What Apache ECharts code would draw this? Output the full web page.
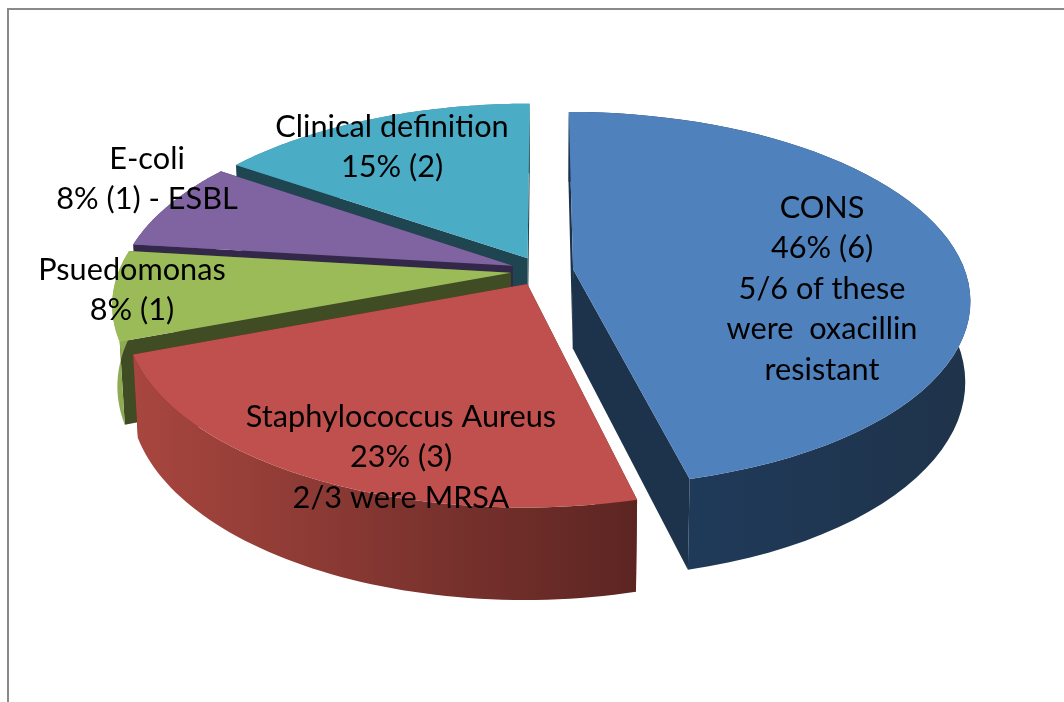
<!DOCTYPE html>
<html lang="en">

<head>
    <meta charset="UTF-8">
    <title>3D pie</title>
    <script src="https://cdn.jsdelivr.net/npm/echarts@6/dist/echarts.min.js"></script>
    <style>
        html, body { margin: 0; padding: 0; background: #fff; }
        #chart { width: 1064px; height: 702px; }
    </style>
</head>

<body>
    <div id="chart"></div>
    <script>
        // data, clockwise from twelve o'clock
        var categories = ['CONS', 'Staphylococcus Aureus', 'Psuedomonas', 'E-coli', 'Clinical definition'];
        var counts = [6, 3, 1, 1, 2];
        var labelLines = [
            ['CONS', '46% (6)', '5/6 of these', 'were  oxacillin', 'resistant'],
            ['Staphylococcus Aureus', '23% (3)', '2/3 were MRSA'],
            ['Psuedomonas', '8% (1)'],
            ['E-coli', '8% (1) - ESBL'],
            ['Clinical definition', '15% (2)']
        ];

        // look of the slices
        var topColors = ['#4F81BD', '#C0504D', '#9BBB59', '#8064A2', '#4BACC6'];
        var cutColors = ['#1D334B', '#5E2623', '#3F4C24', '#33284A', '#1F4650'];
        var wallColors = [
            ['#1F3D60', '#1F334A'],
            ['#A8463F', '#5C2522'],
            ['#8FAB52', '#8FAB52'],
            ['#6A5288', '#5A4676'],
            ['#3F93A8', '#357F92']
        ];
        var labelCenters = [[822, 208], [401, 417], [132, 270], [147, 159], [392, 127]];
        var lineGap = 40.5;
        var drawOrder = [4, 3, 2, 0, 1]; // back to front

        // projection of the disc, radius 1
        var cx = 542, cy = 271, radiusX = 392, tilt = 183, height = 79;
        var persp = 0.16, bottomShrink = 0.988, explode = 0.08;

        var total = counts.reduce(function (a, b) { return a + b; }, 0);
        var angles = [], acc = 0;
        counts.forEach(function (c) {
            var from = acc / total * Math.PI * 2;
            acc += c;
            angles.push([from, acc / total * Math.PI * 2]);
        });

        function project(x, y, isBottom) {
            var s = 1 / (1 + persp * y);
            var k = isBottom ? bottomShrink : 1;
            return [
                cx + radiusX * x * s * k,
                cy - tilt * y * s * k + (isBottom ? height * s : 0)
            ];
        }

        function rimPoint(i, t, isBottom) {
            var mid = (angles[i][0] + angles[i][1]) / 2;
            return project(
                Math.sin(t) + explode * Math.sin(mid),
                Math.cos(t) + explode * Math.cos(mid),
                isBottom
            );
        }

        function apexPoint(i, isBottom) {
            var mid = (angles[i][0] + angles[i][1]) / 2;
            return project(explode * Math.sin(mid), explode * Math.cos(mid), isBottom);
        }

        function rim(i, isBottom) {
            var pts = [], steps = 60;
            for (var n = 0; n <= steps; n++) {
                pts.push(rimPoint(i, angles[i][0] + (angles[i][1] - angles[i][0]) * n / steps, isBottom));
            }
            return pts;
        }

        function poly(points, fill) {
            return { type: 'polygon', shape: { points: points }, style: { fill: fill } };
        }

        function renderSlice(params) {
            var i = drawOrder[params.dataIndex];
            var top = rim(i, false), bottom = rim(i, true);
            var last = top.length - 1;
            var a = apexPoint(i, false), b = apexPoint(i, true);
            var wallFill = new echarts.graphic.LinearGradient(0, 0, 1, 0, [
                { offset: 0, color: wallColors[i][0] },
                { offset: 1, color: wallColors[i][1] }
            ]);
            var cuts = [
                poly([a, top[0], bottom[0], b], cutColors[i]),
                poly([a, top[last], bottom[last], b], cutColors[i])
            ];
            var wall = poly(top.concat(bottom.slice().reverse()), wallFill);
            var face = poly([a].concat(top), topColors[i]);
            // slices at the back show their cut faces over the hidden rim
            var mid = (angles[i][0] + angles[i][1]) / 2;
            var children = Math.cos(mid) > 0 ? [wall].concat(cuts, [face]) : cuts.concat([wall, face]);
            return { type: 'group', children: children };
        }

        function renderLabel(params) {
            var i = params.dataIndex, c = labelCenters[i];
            return {
                type: 'group',
                children: labelLines[i].map(function (line, n) {
                    return {
                        type: 'text',
                        style: {
                            x: c[0], y: c[1] + n * lineGap, text: line,
                            fill: '#000', font: '30.7px Lato',
                            align: 'center', verticalAlign: 'middle'
                        }
                    };
                })
            };
        }

        var chart = echarts.init(document.getElementById('chart'));
        chart.setOption({
            animation: false,
            backgroundColor: '#fff',
            graphic: [
                { type: 'rect', shape: { x: 7, y: 8, width: 1057, height: 2 }, style: { fill: '#8a8a8a' } },
                { type: 'rect', shape: { x: 7, y: 8, width: 2, height: 694 }, style: { fill: '#8a8a8a' } }
            ],
            series: [
                {
                    type: 'custom',
                    coordinateSystem: 'none',
                    silent: true,
                    renderItem: renderSlice,
                    data: drawOrder.map(function (i) { return { name: categories[i], value: counts[i] }; })
                },
                {
                    type: 'custom',
                    coordinateSystem: 'none',
                    silent: true,
                    z: 5,
                    renderItem: renderLabel,
                    data: categories.map(function (name, i) { return { name: name, value: counts[i] }; })
                }
            ]
        });
    </script>
</body>

</html>
